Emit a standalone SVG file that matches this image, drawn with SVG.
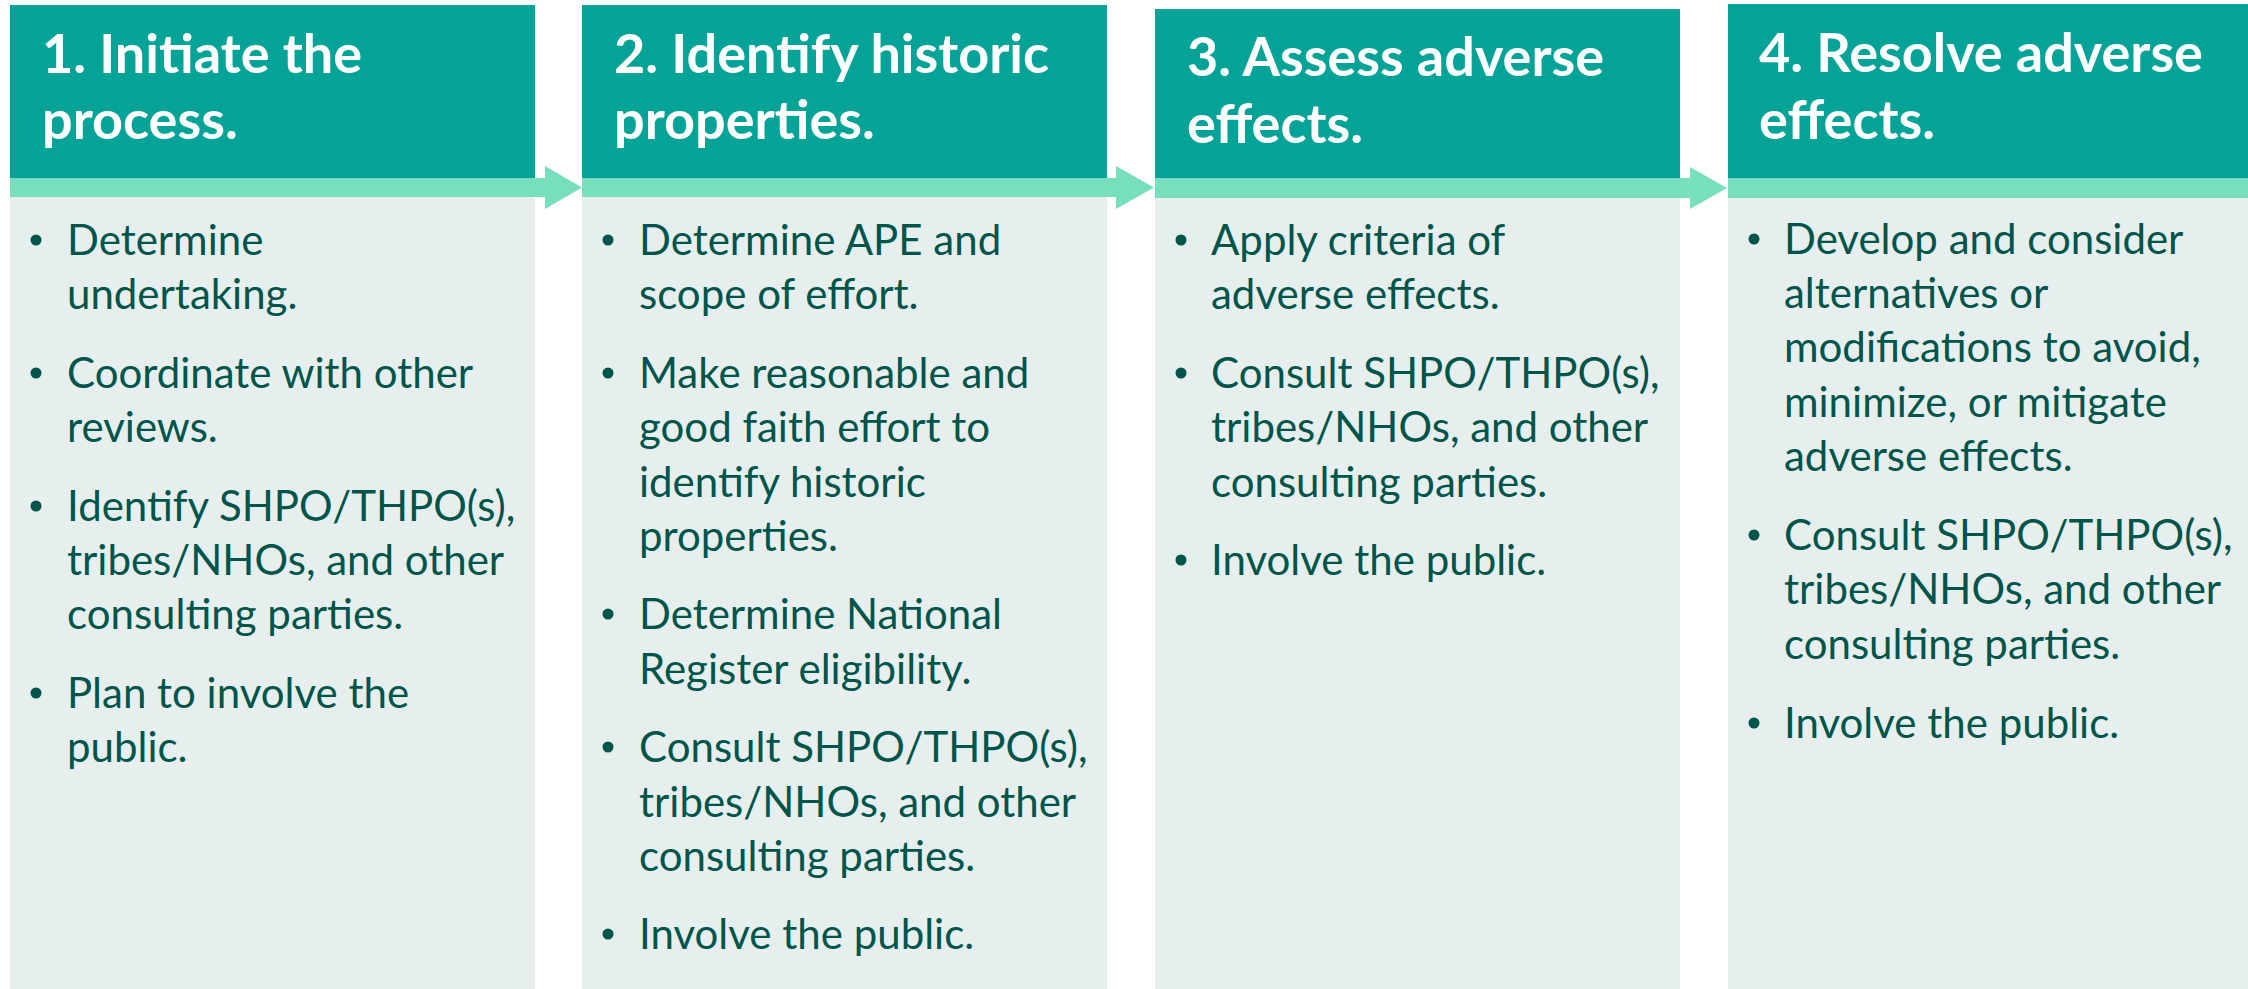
<svg xmlns="http://www.w3.org/2000/svg" width="2248" height="989" viewBox="0 0 2248 989">
<style>
.hdr{fill:#04A398}
.body{fill:#E6EFEE}
.band{fill:#77DEBE}
.title{font-family:Lato,"Noto Sans",sans-serif;font-weight:700;font-size:54px;fill:#FFFFFF}
.txt{font-family:Lato,"Noto Sans",sans-serif;font-size:42px;fill:#00554B}
.dot{fill:#00554B}
</style>
<rect width="2248" height="989" fill="#FFFFFF"/>
<g id="connectors">
<rect class="band" x="10" y="178" width="535" height="19"/>
<polygon class="band" points="545,166 582,187.5 545,209"/>
<rect class="band" x="582" y="178" width="534" height="19"/>
<polygon class="band" points="1116,166 1154,187.5 1116,209"/>
<rect class="band" x="1155" y="178" width="535" height="20"/>
<polygon class="band" points="1690,167 1727,188 1690,209"/>
<rect class="band" x="1728" y="178" width="520" height="20"/>
</g>
<g id="step1">
<rect class="hdr" x="10" y="5" width="525" height="173"/>
<rect class="body" x="10" y="197" width="525" height="792"/>
<text class="title"><tspan x="42" y="73">1. Initiate the</tspan><tspan x="42" y="139">process.</tspan></text>
<circle class="dot" cx="36" cy="240" r="5.5"/>
<circle class="dot" cx="36" cy="373" r="5.5"/>
<circle class="dot" cx="36" cy="506" r="5.5"/>
<circle class="dot" cx="36" cy="693" r="5.5"/>
<text class="txt"><tspan x="67" y="255">Determine</tspan><tspan x="67" y="309">undertaking.</tspan><tspan x="67" y="388">Coordinate with other</tspan><tspan x="67" y="442">reviews.</tspan><tspan x="67" y="521">Identify SHPO/THPO(s),</tspan><tspan x="67" y="575">tribes/NHOs, and other</tspan><tspan x="67" y="629">consulting parties.</tspan><tspan x="67" y="708">Plan to involve the</tspan><tspan x="67" y="762">public.</tspan></text>
</g>
<g id="step2">
<rect class="hdr" x="582" y="5" width="525" height="173"/>
<rect class="body" x="582" y="197" width="525" height="792"/>
<text class="title"><tspan x="614" y="73">2. Identify historic</tspan><tspan x="614" y="139">properties.</tspan></text>
<circle class="dot" cx="608" cy="240" r="5.5"/>
<circle class="dot" cx="608" cy="373" r="5.5"/>
<circle class="dot" cx="608" cy="614" r="5.5"/>
<circle class="dot" cx="608" cy="747" r="5.5"/>
<circle class="dot" cx="608" cy="934" r="5.5"/>
<text class="txt"><tspan x="639" y="255">Determine APE and</tspan><tspan x="639" y="309">scope of effort.</tspan><tspan x="639" y="388">Make reasonable and</tspan><tspan x="639" y="442">good faith effort to</tspan><tspan x="639" y="497">identify historic</tspan><tspan x="639" y="551">properties.</tspan><tspan x="639" y="629">Determine National</tspan><tspan x="639" y="684">Register eligibility.</tspan><tspan x="639" y="762">Consult SHPO/THPO(s),</tspan><tspan x="639" y="817">tribes/NHOs, and other</tspan><tspan x="639" y="871">consulting parties.</tspan><tspan x="639" y="949">Involve the public.</tspan></text>
</g>
<g id="step3">
<rect class="hdr" x="1155" y="9" width="525" height="169"/>
<rect class="body" x="1155" y="198" width="525" height="791"/>
<text class="title"><tspan x="1187" y="76">3. Assess adverse</tspan><tspan x="1187" y="143">effects.</tspan></text>
<circle class="dot" cx="1181" cy="240" r="5.5"/>
<circle class="dot" cx="1181" cy="373" r="5.5"/>
<circle class="dot" cx="1181" cy="560" r="5.5"/>
<text class="txt"><tspan x="1211" y="255">Apply criteria of</tspan><tspan x="1211" y="309">adverse effects.</tspan><tspan x="1211" y="388">Consult SHPO/THPO(s),</tspan><tspan x="1211" y="442">tribes/NHOs, and other</tspan><tspan x="1211" y="497">consulting parties.</tspan><tspan x="1211" y="575">Involve the public.</tspan></text>
</g>
<g id="step4">
<rect class="hdr" x="1728" y="4" width="520" height="174"/>
<rect class="body" x="1728" y="198" width="520" height="791"/>
<text class="title"><tspan x="1759" y="72">4. Resolve adverse</tspan><tspan x="1759" y="139">effects.</tspan></text>
<circle class="dot" cx="1754" cy="239" r="5.5"/>
<circle class="dot" cx="1754" cy="535" r="5.5"/>
<circle class="dot" cx="1754" cy="723" r="5.5"/>
<text class="txt"><tspan x="1784" y="254">Develop and consider</tspan><tspan x="1784" y="308">alternatives or</tspan><tspan x="1784" y="362">modifications to avoid,</tspan><tspan x="1784" y="417">minimize, or mitigate</tspan><tspan x="1784" y="471">adverse effects.</tspan><tspan x="1784" y="550">Consult SHPO/THPO(s),</tspan><tspan x="1784" y="604">tribes/NHOs, and other</tspan><tspan x="1784" y="659">consulting parties.</tspan><tspan x="1784" y="738">Involve the public.</tspan></text>
</g>
</svg>
